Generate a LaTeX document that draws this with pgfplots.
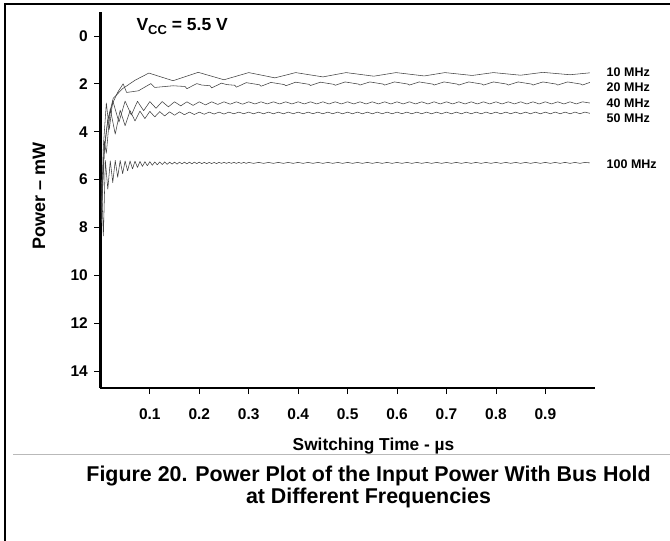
\documentclass[border=0pt]{standalone}
\usepackage{pgfplots}
\pgfplotsset{compat=1.18}
\usepackage{fontspec}
\setmainfont{Liberation Sans}
\definecolor{curve}{gray}{0.25}
\begin{document}
\begin{tikzpicture}[crv/.style={curve, line width=0.55pt, line join=round, mark=none}]
\path[use as bounding box] (0pt,0pt) rectangle (670pt,541pt);
% frame and separator
\draw[line width=1.3pt] (5pt,0pt) -- (5pt,537pt) -- (670pt,537pt);
\draw[gray!55, line width=1pt] (13pt,86pt) -- (670pt,86pt);
\node[font=\bfseries\fontsize{21.4}{22}\selectfont, align=center] at (368.5pt,54pt)
  {Figure 20. Power Plot of the Input Power With Bus Hold\\at Different Frequencies};
\node[font=\bfseries\fontsize{17.3}{18}\selectfont] at (373.5pt,95pt) {Switching Time - µs};
\node[font=\bfseries\fontsize{18}{18}\selectfont, rotate=90] at (39pt,345pt) {Power – mW};
\begin{axis}[
  at={(100.4pt,153pt)}, anchor=south west,
  scale only axis, width=494.4pt, height=376pt,
  xmin=0, xmax=1.0, ymin=-1, ymax=14.7, y dir=reverse,
  axis x line=bottom, axis y line=left,
  axis line style={-, line width=2.5pt, black},
  xtick={0.1,0.2,0.3,0.4,0.5,0.6,0.7,0.8,0.9},
  xticklabels={0.1,0.2,0.3,0.4,0.5,0.6,0.7,0.8,0.9},
  ytick={0,2,4,6,8,10,12,14},
  yticklabels={0,2,4,6,8,10,12,14},
  tick align=outside, major tick length=6pt,
  tick style={black, line width=0.8pt},
  tick label style={font=\bfseries\fontsize{15.5}{16}\selectfont},
  yticklabel style={xshift=-3pt},
  xticklabel style={yshift=-11pt},
  clip=false,
]
% 10 MHz
\addplot[crv] coordinates {
(0.002,7.0)(0.008,4.6)(0.015,3.5)(0.026,2.6)(0.045,2.2)(0.07,1.85)(0.098,1.55)
(0.147,1.87)(0.198,1.52)(0.25,1.83)(0.3,1.53)(0.353,1.75)(0.395,1.53)(0.45,1.71)
(0.497,1.53)(0.553,1.68)(0.598,1.53)(0.655,1.67)(0.697,1.53)(0.752,1.65)(0.795,1.53)
(0.85,1.64)(0.895,1.52)(0.95,1.62)(0.99,1.54)};
% 20 MHz
\addplot[crv] coordinates {
(0.002,7.4)(0.008,4.8)(0.015,3.5)(0.025,2.8)(0.035,2.35)(0.046,2.0)(0.053,2.36)(0.077,2.29)
(0.102,1.99)(0.11,2.15)(0.147,2.08)(0.171,2.11)(0.175,2.2)(0.195,1.99)(0.205,2.05)(0.222,2.08)
(0.225,2.17)(0.245,1.97)(0.255,2.03)(0.272,2.06)(0.275,2.14)
(0.295,1.95)(0.322,2.04)(0.325,2.10)
(0.345,1.94)(0.372,2.03)(0.375,2.08)
(0.395,1.93)(0.422,2.02)(0.425,2.07)
(0.445,1.93)(0.472,2.02)(0.475,2.06)
(0.495,1.92)(0.522,2.01)(0.525,2.05)
(0.545,1.92)(0.572,2.01)(0.575,2.05)
(0.595,1.92)(0.622,2.01)(0.625,2.05)
(0.645,1.92)(0.672,2.01)(0.675,2.05)
(0.695,1.92)(0.722,2.01)(0.725,2.05)
(0.745,1.92)(0.772,2.01)(0.775,2.05)
(0.795,1.92)(0.822,2.01)(0.825,2.05)
(0.845,1.92)(0.872,2.01)(0.875,2.05)
(0.895,1.92)(0.922,2.01)(0.925,2.05)
(0.945,1.92)(0.972,2.01)(0.975,2.05)
(0.99,1.94)};
% 40 MHz
\addplot[crv] coordinates {
(0.002,7.2)(0.006,4.6)(0.012,2.8)(0.018,3.9)(0.025,2.7)(0.0375,3.6)(0.05,2.72)(0.0625,3.3)
(0.075,2.73)(0.0875,3.12)(0.1,2.74)(0.1125,3.02)(0.125,2.74)(0.1375,2.96)(0.15,2.75)(0.1625,2.92)
(0.175,2.75)(0.1875,2.9)(0.2,2.75)(0.2125,2.88)(0.225,2.75)(0.2375,2.86)
(0.25,2.75)(0.2625,2.85)(0.275,2.75)(0.2875,2.85)(0.3,2.75)(0.3125,2.84)(0.325,2.75)(0.3375,2.84)
(0.35,2.75)(0.3625,2.84)(0.375,2.75)(0.3875,2.84)(0.4,2.75)(0.4125,2.84)(0.425,2.75)(0.4375,2.84)
(0.45,2.75)(0.4625,2.84)(0.475,2.75)(0.4875,2.84)(0.5,2.75)(0.5125,2.84)(0.525,2.75)(0.5375,2.84)
(0.55,2.75)(0.5625,2.84)(0.575,2.75)(0.5875,2.84)(0.6,2.75)(0.6125,2.84)(0.625,2.75)(0.6375,2.84)
(0.65,2.75)(0.6625,2.84)(0.675,2.75)(0.6875,2.84)(0.7,2.75)(0.7125,2.84)(0.725,2.75)(0.7375,2.84)
(0.75,2.75)(0.7625,2.84)(0.775,2.75)(0.7875,2.84)(0.8,2.75)(0.8125,2.84)(0.825,2.75)(0.8375,2.84)
(0.85,2.75)(0.8625,2.84)(0.875,2.75)(0.8875,2.84)(0.9,2.75)(0.9125,2.84)(0.925,2.75)(0.9375,2.84)
(0.95,2.75)(0.9625,2.84)(0.975,2.75)(0.99,2.80)};
% 50 MHz
\addplot[crv] coordinates {
(0.002,7.8)(0.008,4.4)(0.012,4.9)(0.02,3.05)(0.03,4.1)(0.04,3.1)(0.05,3.75)(0.06,3.12)
(0.07,3.55)(0.08,3.14)(0.09,3.45)(0.1,3.15)(0.11,3.38)(0.12,3.16)(0.13,3.34)(0.14,3.17)
(0.15,3.31)(0.16,3.17)(0.17,3.29)(0.18,3.18)(0.19,3.28)(0.2,3.18)(0.21,3.27)
(0.22,3.18)(0.23,3.26)(0.24,3.18)(0.25,3.26)(0.26,3.18)(0.27,3.25)(0.28,3.18)(0.29,3.25)
(0.30,3.18)(0.31,3.25)(0.32,3.18)(0.33,3.25)(0.34,3.18)(0.35,3.25)(0.36,3.18)(0.37,3.25)
(0.38,3.18)(0.39,3.25)(0.40,3.18)(0.41,3.25)(0.42,3.18)(0.43,3.25)(0.44,3.18)(0.45,3.25)
(0.46,3.18)(0.47,3.25)(0.48,3.18)(0.49,3.25)(0.50,3.18)(0.51,3.25)(0.52,3.18)(0.53,3.25)
(0.54,3.18)(0.55,3.25)(0.56,3.18)(0.57,3.25)(0.58,3.18)(0.59,3.25)(0.60,3.18)(0.61,3.25)
(0.62,3.18)(0.63,3.25)(0.64,3.18)(0.65,3.25)(0.66,3.18)(0.67,3.25)(0.68,3.18)(0.69,3.25)
(0.70,3.18)(0.71,3.25)(0.72,3.18)(0.73,3.25)(0.74,3.18)(0.75,3.25)(0.76,3.18)(0.77,3.25)
(0.78,3.18)(0.79,3.25)(0.80,3.18)(0.81,3.25)(0.82,3.18)(0.83,3.25)(0.84,3.18)(0.85,3.25)
(0.86,3.18)(0.87,3.25)(0.88,3.18)(0.89,3.25)(0.90,3.18)(0.91,3.25)(0.92,3.18)(0.93,3.25)
(0.94,3.18)(0.95,3.25)(0.96,3.18)(0.97,3.25)(0.98,3.18)(0.99,3.23)};
% 100 MHz
\addplot[crv] coordinates {
(0.002,6.0)(0.006,8.35)(0.010,5.2)(0.015,6.4)(0.020,5.22)(0.025,6.12)(0.030,5.2)(0.035,5.9)
(0.040,5.2)(0.045,5.75)(0.050,5.22)(0.055,5.63)(0.060,5.22)(0.065,5.55)(0.070,5.23)(0.075,5.49)
(0.080,5.24)(0.085,5.45)(0.090,5.25)(0.095,5.42)(0.100,5.25)(0.105,5.4)(0.110,5.26)(0.115,5.38)
(0.120,5.26)(0.125,5.37)(0.130,5.26)(0.135,5.36)(0.140,5.27)(0.145,5.35)(0.150,5.27)(0.155,5.35)
(0.160,5.27)(0.165,5.34)(0.170,5.27)(0.175,5.34)(0.180,5.27)(0.185,5.34)(0.190,5.27)(0.195,5.33)
(0.200,5.27)(0.205,5.33)(0.210,5.28)(0.215,5.33)(0.220,5.28)(0.225,5.33)(0.230,5.28)(0.235,5.33)
(0.240,5.28)(0.245,5.32)(0.250,5.28)(0.255,5.32)(0.260,5.28)(0.265,5.32)(0.270,5.28)(0.275,5.32)
(0.280,5.28)(0.285,5.32)(0.290,5.28)(0.295,5.32)(0.300,5.28)
(0.31,5.32)(0.32,5.28)(0.33,5.32)(0.34,5.28)(0.35,5.32)(0.36,5.28)(0.37,5.32)(0.38,5.28)
(0.39,5.32)(0.40,5.28)(0.41,5.32)(0.42,5.28)(0.43,5.32)(0.44,5.28)(0.45,5.32)(0.46,5.28)
(0.47,5.32)(0.48,5.28)(0.49,5.32)(0.50,5.28)(0.51,5.32)(0.52,5.28)(0.53,5.32)(0.54,5.28)
(0.55,5.32)(0.56,5.28)(0.57,5.32)(0.58,5.28)(0.59,5.32)(0.60,5.28)(0.61,5.32)(0.62,5.28)
(0.63,5.32)(0.64,5.28)(0.65,5.32)(0.66,5.28)(0.67,5.32)(0.68,5.28)(0.69,5.32)(0.70,5.28)
(0.71,5.32)(0.72,5.28)(0.73,5.32)(0.74,5.28)(0.75,5.32)(0.76,5.28)(0.77,5.32)(0.78,5.28)
(0.79,5.32)(0.80,5.28)(0.81,5.32)(0.82,5.28)(0.83,5.32)(0.84,5.28)(0.85,5.32)(0.86,5.28)
(0.87,5.32)(0.88,5.28)(0.89,5.32)(0.90,5.28)(0.91,5.32)(0.92,5.28)(0.93,5.32)(0.94,5.28)
(0.95,5.32)(0.96,5.28)(0.97,5.32)(0.98,5.28)(0.99,5.30)};
% title and curve labels
\node[anchor=base west, font=\bfseries\fontsize{17.5}{18}\selectfont] at (axis cs:0.066,-0.24)
  {V\raisebox{-4pt}{\fontsize{13}{13}\selectfont CC} = 5.5 V};
\begin{scope}[every node/.style={anchor=west, font=\bfseries\fontsize{12.5}{13}\selectfont}]
\node at (axis cs:1.017,1.53) {10 MHz};
\node at (axis cs:1.017,2.15) {20 MHz};
\node at (axis cs:1.017,2.82) {40 MHz};
\node at (axis cs:1.017,3.43) {50 MHz};
\node at (axis cs:1.017,5.35) {100 MHz};
\end{scope}
\end{axis}
\end{tikzpicture}
\end{document}
